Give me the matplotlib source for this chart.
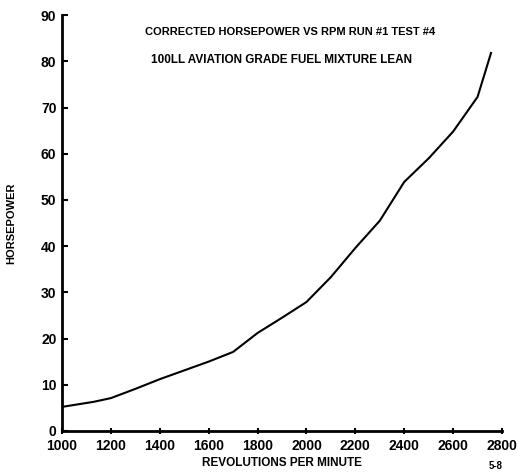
import matplotlib
matplotlib.use("Agg")
from matplotlib import pyplot as plt

# Horsepower
rpm = [1000, 1130, 1200, 1300, 1400, 1500, 1600, 1700, 1800, 1900,
       2000, 2100, 2200, 2300, 2400, 2500, 2600, 2700, 2755]
hp = [5.2, 6.3, 7.1, 9.1, 11.2, 13.1, 15.0, 17.1, 21.2, 24.5,
      27.9, 33.3, 39.6, 45.5, 53.9, 59.0, 64.8, 72.3, 81.8]

x_ticks = [1000, 1200, 1400, 1600, 1800, 2000, 2200, 2400, 2600, 2800]
y_ticks = [0, 10, 20, 30, 40, 50, 60, 70, 80, 90]

plt.rcParams['font.family'] = ['Liberation Sans Narrow', 'Liberation Sans', 'DejaVu Sans']
plt.rcParams['font.weight'] = 'bold'
plt.rcParams['axes.labelweight'] = 'bold'

fig = plt.figure(figsize=(5.17, 4.73), dpi=100)
ax = fig.add_axes([0.12, 0.089, 0.851, 0.879])

ax.plot(rpm, hp, c='black', linewidth=1.5)

ax.set_xlim(1000, 2800)
ax.set_ylim(0, 90)
ax.set_xticks(x_ticks)
ax.set_yticks(y_ticks)

for side in ['top', 'right']:
    ax.spines[side].set_visible(False)
for side in ['left', 'bottom']:
    ax.spines[side].set_linewidth(2)

ax.tick_params(axis='y', direction='in', length=4, width=1.5, labelsize=10, pad=4)
ax.tick_params(axis='x', direction='inout', length=5, width=1.5, labelsize=10, pad=3)

ax.set_xlabel('REVOLUTIONS PER MINUTE', fontsize=8.5, labelpad=3)
ax.set_ylabel('HORSEPOWER', fontsize=8, labelpad=18)

fig.text(0.561, 0.932, 'CORRECTED HORSEPOWER VS RPM RUN #1 TEST #4',
         ha='center', va='center', fontsize=8)
fig.text(0.545, 0.873, '100LL AVIATION GRADE FUEL MIXTURE LEAN',
         ha='center', va='center', fontsize=8.5)
fig.text(0.945, 0.005, '5-8', ha='left', va='bottom', fontsize=7)

plt.savefig('out.png', dpi=100)
